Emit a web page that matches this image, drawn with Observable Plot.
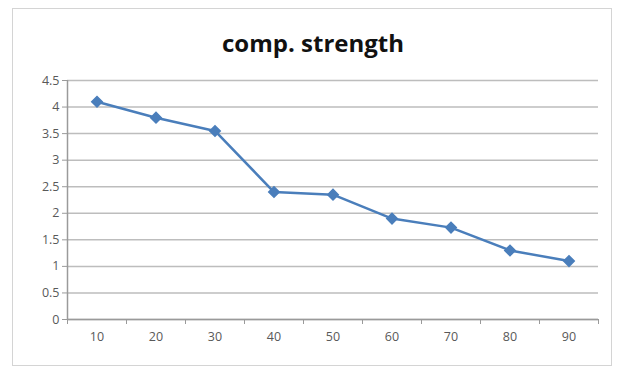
<!DOCTYPE html>
<html>
<head>
<meta charset="utf-8">
<script src="https://cdn.jsdelivr.net/npm/d3@7"></script>
<script src="https://cdn.jsdelivr.net/npm/@observablehq/plot@0.6"></script>
<style>
  html, body { margin: 0; padding: 0; background: #ffffff; width: 618px; height: 370px; overflow: hidden; }
  #frame { position: absolute; left: 12px; top: 8px; width: 600px; height: 358px; border: 1px solid #d4d4d4; background: #fff; box-sizing: border-box; }
  #title { position: absolute; left: 0; top: 17px; width: 600px; text-align: center; font-family: "Open Sans", sans-serif; font-weight: bold; font-size: 24px; color: #111; }
  #chart { position: absolute; left: 0; top: 0; }
</style>
</head>
<body>
<div id="frame">
  <div id="title">comp. strength</div>
  <div id="chart"></div>
</div>
<script>
const categories = [10, 20, 30, 40, 50, 60, 70, 80, 90];
const strength = [4.1, 3.8, 3.55, 2.4, 2.35, 1.9, 1.73, 1.3, 1.1];
const yTicks = [0, 0.5, 1, 1.5, 2, 2.5, 3, 3.5, 4, 4.5];

const data = categories.map((c, i) => ({x: c, y: strength[i]}));
const step = categories[1] - categories[0];
const boundaries = categories.map(c => c - step / 2).concat([categories[categories.length - 1] + step / 2]);
const fmt = d => String(d);

const chart = Plot.plot({
  width: 598,
  height: 356,
  marginLeft: 54,
  marginRight: 13,
  marginTop: 71,
  marginBottom: 46,
  style: {fontFamily: "'Open Sans', sans-serif", fontSize: "12.5px", color: "#595959", background: "transparent"},
  x: {domain: [boundaries[0], boundaries[boundaries.length - 1]]},
  y: {domain: [0, 4.5]},
  marks: [
    Plot.gridY(yTicks, {stroke: "#bdbdbd", strokeOpacity: 1, strokeWidth: 1.5}),
    Plot.axisY(yTicks, {tickSize: 5, tickPadding: 3, stroke: "#9a9a9a", tickFormat: fmt, label: null, fill: "#595959"}),
    Plot.ruleX([boundaries[0]], {stroke: "#9a9a9a", strokeWidth: 1.5}),
    Plot.ruleY([0], {stroke: "#9a9a9a", strokeWidth: 1.5}),
    Plot.axisX(boundaries, {tickSize: 5, text: null, stroke: "#9a9a9a", label: null}),
    Plot.axisX(categories, {tickSize: 0, tickPadding: 13, tickFormat: fmt, label: null, fill: "#595959"}),
    Plot.line(data, {x: "x", y: "y", stroke: "#4a7ebb", strokeWidth: 2.5}),
    Plot.dot(data, {x: "x", y: "y", symbol: "square", rotate: 45, r: 4.2, fill: "#4a7ebb", stroke: "#4a7ebb"})
  ]
});
document.getElementById("chart").append(chart);
</script>
</body>
</html>
